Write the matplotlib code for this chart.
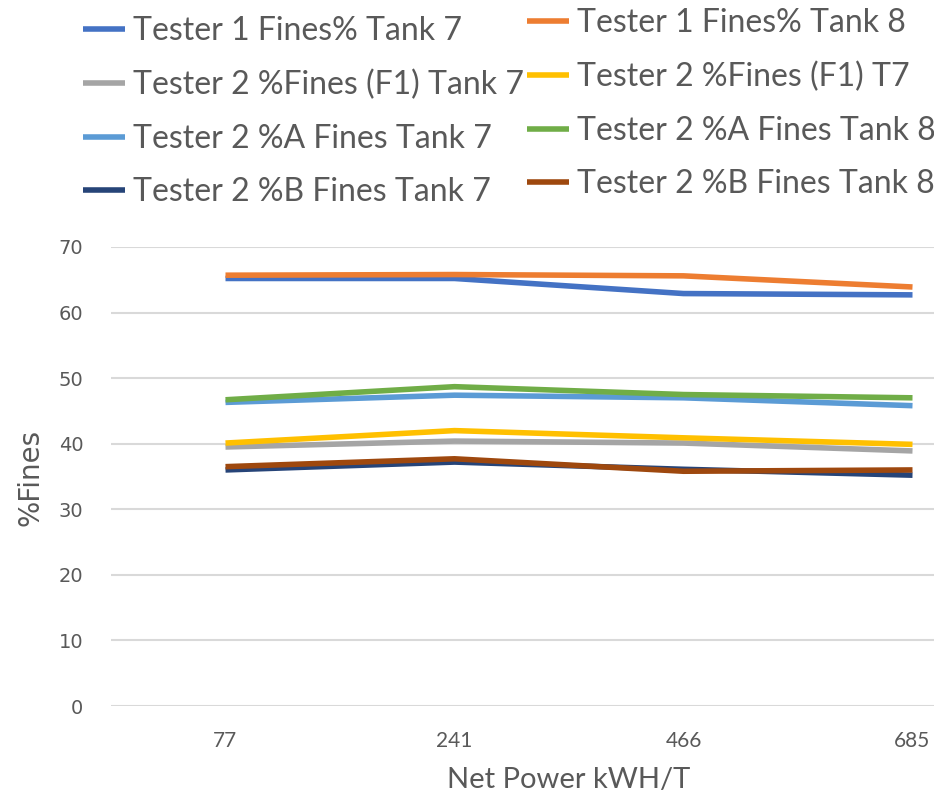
import matplotlib.pyplot as plt

categories = ['77', '241', '466', '685']

labels = [
    'Tester 1 Fines% Tank 7',
    'Tester 1 Fines% Tank 8',
    'Tester 2 %Fines (F1) Tank 7',
    'Tester 2 %Fines (F1) T7',
    'Tester 2 %A Fines Tank 7',
    'Tester 2 %A Fines Tank 8',
    'Tester 2 %B Fines Tank 7',
    'Tester 2 %B Fines Tank 8',
]

t1_tank7 = [65.2, 65.2, 62.9, 62.7]
t1_tank8 = [65.7, 65.8, 65.6, 63.9]
t2_f1_tank7 = [39.5, 40.4, 40.1, 38.9]
t2_f1_t7 = [40.1, 42.0, 40.9, 39.9]
t2_a_tank7 = [46.3, 47.4, 47.0, 45.8]
t2_a_tank8 = [46.7, 48.7, 47.5, 47.0]
t2_b_tank7 = [36.0, 37.2, 36.1, 35.2]
t2_b_tank8 = [36.5, 37.7, 35.8, 36.0]

series = [t1_tank7, t1_tank8, t2_f1_tank7, t2_f1_t7,
          t2_a_tank7, t2_a_tank8, t2_b_tank7, t2_b_tank8]
colors = ['#4472C4', '#ED7D31', '#A5A5A5', '#FFC000',
          '#5B9BD5', '#70AD47', '#264478', '#9E480E']

text_color = '#595959'

fig = plt.figure(figsize=(9.34, 7.97), dpi=100)
# plot area runs past the right edge, as in the cropped original
ax = fig.add_axes([111 / 934, 91 / 797, 916 / 934, 459 / 797])

x = list(range(len(categories)))
handles = []
for vals, col, lab in zip(series, colors, labels):
    h, = ax.plot(x, vals, color=col, lw=4, label=lab, solid_capstyle='butt')
    handles.append(h)

ax.set_xlim(-0.5, len(categories) - 0.5)
ax.set_ylim(0, 70)
ax.set_yticks(range(0, 71, 10))
ax.set_xticks(x)
ax.set_xticklabels(categories, fontsize=15, color=text_color, family='Lato')
ax.tick_params(axis='y', labelsize=14, labelcolor=text_color, length=0, pad=20)
ax.tick_params(axis='x', length=0, pad=18)
ax.grid(axis='y', color='#D9D9D9', lw=1.5)
ax.set_axisbelow(True)
for s in ax.spines.values():
    s.set_visible(False)

fig.text(569 / 934, 1 - 780 / 797, 'Net Power kWH/T', ha='center', va='center',
         fontsize=21, color=text_color, family='Lato')
fig.text(30 / 934, 1 - 477 / 797, '%Fines', ha='center', va='center',
         rotation=90, fontsize=20, color=text_color)

# two legends: left column (even series) and right column (odd series)
leg_kw = dict(ncol=1, loc='upper left', frameon=False,
              prop={'family': 'Lato', 'size': 23},
              handlelength=1.3, handletextpad=0.25, labelspacing=0.74,
              borderpad=0, borderaxespad=0)
left = fig.legend(handles[0::2], labels[0::2],
                  bbox_to_anchor=(83 / 934, 1 - 16 / 797), **leg_kw)
right = fig.legend(handles[1::2], labels[1::2],
                   bbox_to_anchor=(527 / 934, 1 - 8 / 797), **leg_kw)
for leg in (left, right):
    for t in leg.get_texts():
        t.set_color(text_color)

fig.savefig('out.png', dpi=100)
